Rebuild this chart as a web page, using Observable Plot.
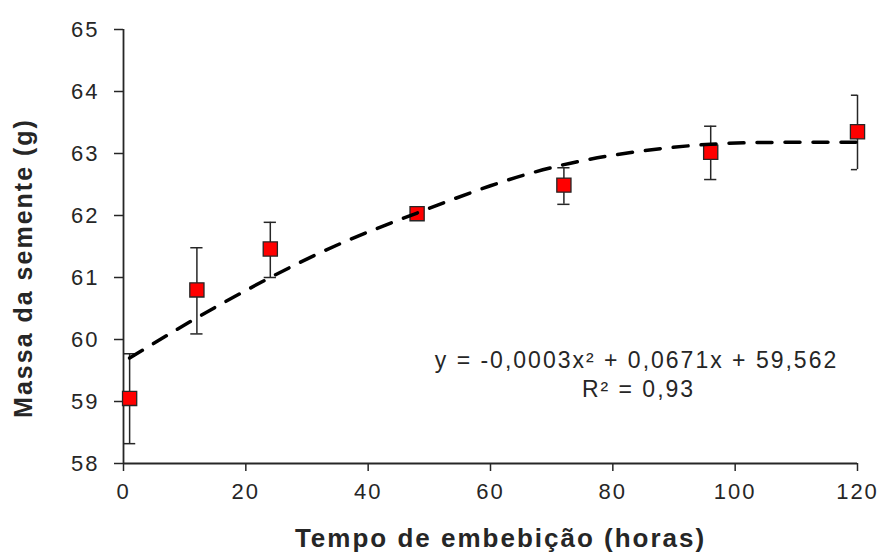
<!DOCTYPE html>
<html><head><meta charset="utf-8">
<script src="https://cdn.jsdelivr.net/npm/d3@7"></script>
<script src="https://cdn.jsdelivr.net/npm/@observablehq/plot@0.6"></script>
<style>body{margin:0;background:#fff}</style>
</head><body><div id="chart"></div>
<script>
const hours = [1, 12, 24, 48, 72, 96, 120];
const mass = [59.05, 60.80, 61.46, 62.03, 62.49, 63.02, 63.35];
const errLow = [58.32, 60.09, 61.00, 62.00, 62.18, 62.58, 62.74];
const errHigh = [59.77, 61.48, 61.89, 62.06, 62.77, 63.44, 63.94];
const trendHours = [1, 12, 24, 36, 48, 60, 72, 84, 96, 108, 120];
const trendMass = [59.70, 60.35, 61.00, 61.57, 62.04, 62.48, 62.82, 63.03, 63.15, 63.18, 63.18];
const xTicks = [0, 20, 40, 60, 80, 100, 120];
const yTicks = [58, 59, 60, 61, 62, 63, 64, 65];
const xLabel = "Tempo de embebição (horas)";
const yLabel = "Massa da semente (g)";
const eqLine = "y = -0,0003x² + 0,0671x + 59,562";
const r2Line = "R² = 0,93";

const points = hours.map((h, i) => ({hours: h, mass: mass[i], lo: errLow[i], hi: errHigh[i]}));
const trend = trendHours.map((h, i) => ({hours: h, mass: trendMass[i]}));
const ink = "#262626";

const chart = Plot.plot({
  width: 879,
  height: 553,
  marginTop: 29,
  marginBottom: 90,
  marginLeft: 123,
  marginRight: 22,
  style: {fontFamily: "'Liberation Sans', Arial, sans-serif", fontSize: "22px", letterSpacing: "2px", color: ink, background: "#fff"},
  x: {domain: [0, 120]},
  y: {domain: [58, 65]},
  marks: [
    Plot.axisX({ticks: xTicks, tickFormat: d => String(d), tickSize: 8, tickPadding: 12, label: null, strokeWidth: 1.5, fontSize: 22}),
    Plot.axisY({ticks: yTicks, tickFormat: d => String(d), tickSize: 9, tickPadding: 15, label: null, strokeWidth: 1.5, fontSize: 22}),
    Plot.ruleX([0], {stroke: ink, strokeWidth: 1.8}),
    Plot.ruleY([58], {stroke: ink, strokeWidth: 1.8}),
    Plot.ruleX(points, {x: "hours", y1: "lo", y2: "hi", stroke: ink, strokeWidth: 1.5}),
    Plot.ruleY(points, {y: "lo", x1: d => d.hours - 1, x2: d => d.hours + 1, stroke: ink, strokeWidth: 1.5, clip: true}),
    Plot.ruleY(points, {y: "hi", x1: d => d.hours - 1, x2: d => d.hours + 1, stroke: ink, strokeWidth: 1.5, clip: true}),
    Plot.dot(points, {x: "hours", y: "mass", symbol: "square", r: 8, fill: "#ff0000", stroke: ink, strokeWidth: 1.3}),
    Plot.line(trend, {x: "hours", y: "mass", curve: "natural", stroke: "#000", strokeWidth: 3.5, strokeDasharray: "15,13"}),
    Plot.text([eqLine], {frameAnchor: "bottom-right", dx: -221, dy: -103, textAnchor: "middle", lineAnchor: "middle", fontSize: 23, fill: ink}),
    Plot.text([r2Line], {frameAnchor: "bottom-right", dx: -219, dy: -74, textAnchor: "middle", lineAnchor: "middle", fontSize: 23, fill: ink}),
    Plot.text([xLabel], {frameAnchor: "bottom", dx: 10, dy: 75, textAnchor: "middle", lineAnchor: "middle", fontSize: 26, fontWeight: "bold", fill: ink}),
    Plot.text([yLabel], {frameAnchor: "left", dx: -100, dy: 21.5, rotate: -90, textAnchor: "middle", lineAnchor: "middle", fontSize: 25, fontWeight: "bold", fill: ink})
  ]
});
document.getElementById("chart").appendChild(chart);
</script>
</body></html>
